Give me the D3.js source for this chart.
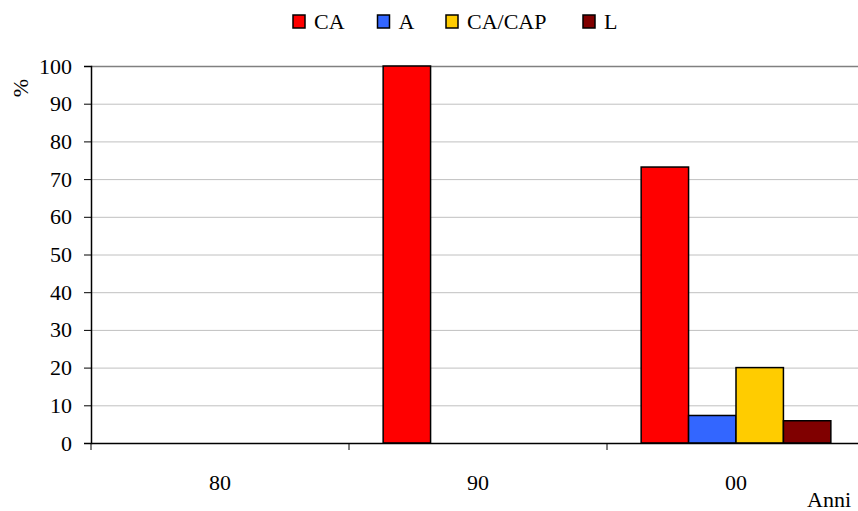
<!DOCTYPE html>
<html>
<head>
<meta charset="utf-8">
<script src="https://cdn.jsdelivr.net/npm/d3@7"></script>
<style>
  body { margin: 0; background: #fff; }
</style>
</head>
<body>
<svg id="chart" width="858" height="511"></svg>
<script>
// Decades on the x axis and share (%) per type
const categories = ["80", "90", "00"];
const seriesNames = ["CA", "A", "CA/CAP", "L"];
const seriesColors = ["#ff0000", "#3366ff", "#ffcc00", "#800000"];
const valuesCA = [0, 100, 73.2];
const valuesA = [0, 0, 7.3];
const valuesCACAP = [0, 0, 20];
const valuesL = [0, 0, 5.9];
const yTicks = [0, 10, 20, 30, 40, 50, 60, 70, 80, 90, 100];

const series = [valuesCA, valuesA, valuesCACAP, valuesL];
const FONT = "Liberation Serif, Times New Roman, serif";

const svg = d3.select("#chart");
const x0 = 91, x1 = 865;
const y0 = 443, y1 = 66;

const x = d3.scaleBand().domain(categories).range([x0, x1]).paddingInner(0).paddingOuter(0);
const xs = d3.scaleBand().domain(seriesNames).range([0, x.bandwidth()]).paddingOuter(0.72).paddingInner(0);
const y = d3.scaleLinear().domain([0, 100]).range([y0, y1]);

// Serif face on every label
function serif(sel) {
  sel.style("font-family", FONT).style("font-size", "22px").attr("fill", "#000");
}

// Gridlines
svg.append("g").selectAll("line").data(yTicks.filter(t => t > 0)).join("line")
  .attr("x1", x0).attr("x2", x1)
  .attr("y1", d => y(d) + 0.5).attr("y2", d => y(d) + 0.5)
  .attr("stroke", d => d === 100 ? "#808080" : "#c0c0c0")
  .attr("stroke-width", d => d === 100 ? 1.5 : 1);

// Bars
const groups = svg.append("g").selectAll("g").data(categories).join("g")
  .attr("transform", d => `translate(${x(d)},0)`);
groups.selectAll("rect")
  .data((c, ci) => seriesNames.map((s, si) => ({ s, si, v: series[si][ci] })).filter(d => d.v > 0))
  .join("rect")
  .attr("x", d => xs(d.s))
  .attr("width", xs.bandwidth())
  .attr("y", d => y(d.v))
  .attr("height", d => y(0) - y(d.v))
  .attr("fill", d => seriesColors[d.si])
  .attr("stroke", "#000")
  .attr("stroke-width", 1.5);

// Y axis
const yAxis = svg.append("g").attr("transform", `translate(${x0},0)`)
  .call(d3.axisLeft(y).tickValues(yTicks).tickSize(7).tickPadding(12).tickFormat(d3.format("d")));
yAxis.select(".domain").attr("stroke", "#000").attr("stroke-width", 1.5);
yAxis.selectAll(".tick line").attr("stroke", "#000");
yAxis.selectAll("text").call(serif);

// X axis
const xAxis = svg.append("g").attr("transform", `translate(0,${y0})`)
  .call(d3.axisBottom(x).tickSize(0).tickPadding(31));
xAxis.select(".domain").attr("stroke", "#000").attr("stroke-width", 1.5);
xAxis.selectAll("text").call(serif);
// Category boundary ticks
svg.append("g").selectAll("line").data([x0, ...categories.map(c => x(c) + x.bandwidth())]).join("line")
  .attr("x1", d => d).attr("x2", d => d)
  .attr("y1", y0).attr("y2", y0 + 7)
  .attr("stroke", "#000");

// Axis titles
svg.append("text").attr("transform", "translate(20,88) rotate(-90)")
  .attr("text-anchor", "middle").attr("dy", "0.35em")
  .call(serif).text("%");
svg.append("text").attr("x", 851).attr("y", 507).attr("text-anchor", "end")
  .call(serif).text("Anni");

// Legend
const legendX = [293, 377.5, 446, 583];
const legend = svg.append("g").selectAll("g").data(seriesNames).join("g")
  .attr("transform", (d, i) => `translate(${legendX[i]},15)`);
legend.append("rect").attr("width", 12).attr("height", 13)
  .attr("fill", (d, i) => seriesColors[i]).attr("stroke", "#000").attr("stroke-width", 1.5);
legend.append("text").attr("x", 21).attr("y", 14).call(serif).text(d => d);
</script>
</body>
</html>
